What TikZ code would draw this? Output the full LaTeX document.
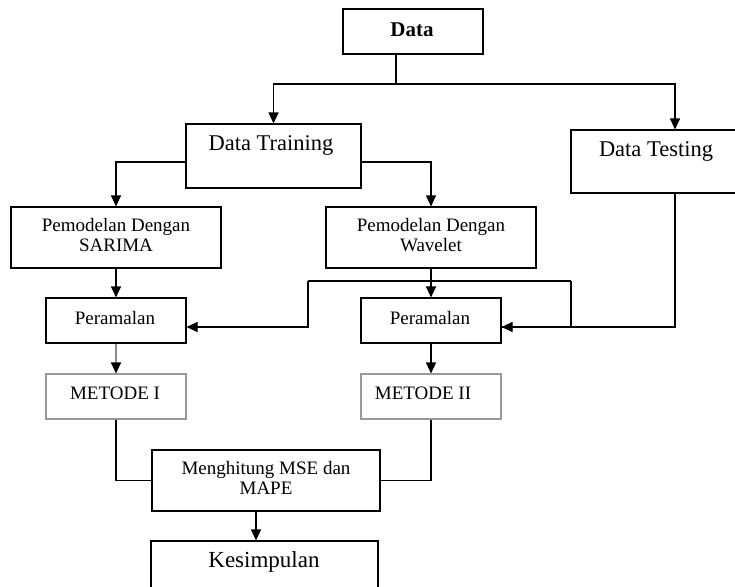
\documentclass[tikz,border=0pt]{standalone}
\usepackage{fontspec}
\setmainfont{Liberation Serif}
\usetikzlibrary{arrows.meta}
\begin{document}
\begin{tikzpicture}[x=1pt,y=-1pt,
  box/.style={draw=black, line width=1.1pt, rectangle, inner sep=0pt},
  graybox/.style={draw=black!40, line width=1.1pt, rectangle, inner sep=0pt},
  bigtxt/.style={inner sep=0pt, align=center, font=\fontsize{22.5}{24}\selectfont},
  smalltxt/.style={inner sep=0pt, align=center, font=\fontsize{19}{19.5}\selectfont},
  conn/.style={line width=1.1pt, draw=black},
  arr/.style={conn, -{Triangle[length=11pt,width=10pt]}},
  grayarr/.style={line width=1.1pt, draw=black!45, -{Triangle[length=11pt,width=10pt,color=black]}}
]
\useasboundingbox (0,0) rectangle (735,586);
\clip (0,0) rectangle (735,586);
\fill[white] (0,0) rectangle (735,586);

% boxes
\node[box, minimum width=140pt, minimum height=45pt] (data) at (413,31.5) {};
\node[box, minimum width=175pt, minimum height=64pt] (train) at (273.5,156) {};
\node[box, minimum width=208pt, minimum height=63pt] (test) at (675,161.5) {};
\node[box, minimum width=210pt, minimum height=61pt] (sarima) at (116,237.5) {};
\node[box, minimum width=210pt, minimum height=61pt] (wave) at (431,237.5) {};
\node[box, minimum width=140pt, minimum height=45pt] (per1) at (116,320.5) {};
\node[box, minimum width=140pt, minimum height=45pt] (per2) at (431,320.5) {};
\node[graybox, minimum width=140pt, minimum height=45pt] (met1) at (116,396.5) {};
\node[graybox, minimum width=140pt, minimum height=45pt] (met2) at (431,396.5) {};
\node[box, minimum width=228pt, minimum height=61pt] (mse) at (266,480.5) {};
\node[box, minimum width=227pt, minimum height=70pt] (kes) at (264.5,576) {};

% texts
\node[bigtxt, font=\fontsize{21}{24}\selectfont\bfseries] (tdata) at (412,29.5) {Data};
\node[bigtxt] (ttrain) at (271,145) {Data Training};
\node[bigtxt] (ttest) at (656,151) {Data Testing};
\node[smalltxt] (tsarima) at (116,235) {Pemodelan Dengan\\SARIMA};
\node[smalltxt] (twave) at (431,235) {Pemodelan Dengan\\Wavelet};
\node[smalltxt] (tper1) at (115,318) {Peramalan};
\node[smalltxt] (tper2) at (430,318) {Peramalan};
\node[smalltxt] (tmet1) at (115,393) {METODE I};
\node[smalltxt] (tmet2) at (423,393) {METODE II};
\node[smalltxt] (tmse) at (266,478) {Menghitung MSE dan\\MAPE};
\node[bigtxt, font=\fontsize{23}{24}\selectfont] (tkes) at (264,562) {Kesimpulan};

% connectors
\coordinate (j1) at (396,84);
\draw[conn] (j1 |- data.south) -- (j1);
\draw[arr] (j1) -| (train.north);
\draw[arr] (j1) -| (test.north);

\draw[arr] ([yshift=-6pt]train.west) -| (sarima.north);
\draw[arr] ([yshift=-6pt]train.east) -| (wave.north);

\draw[arr] (sarima.south) -- (per1.north);
\draw[arr] (wave.south) -- (per2.north);

\coordinate (b1) at (308,281);
\coordinate (b2) at (571,281);
\draw[conn] (b1) -- (b2);
\draw[arr] (b1) |- ([yshift=-6.5pt]per1.east);
\draw[conn] (b2) |- ([yshift=-6.5pt]per2.east);
\draw[arr] (test.south) |- ([yshift=-6.5pt]per2.east);

\draw[grayarr] (per1.south) -- (met1.north);
\draw[arr] (per2.south) -- (met2.north);

\draw[conn] (met1.south) |- (mse.west);
\draw[conn] (met2.south) |- (mse.east);

\draw[arr] ([xshift=-10pt]mse.south) -- ([xshift=-10pt]mse.south |- kes.north);
\end{tikzpicture}
\end{document}
